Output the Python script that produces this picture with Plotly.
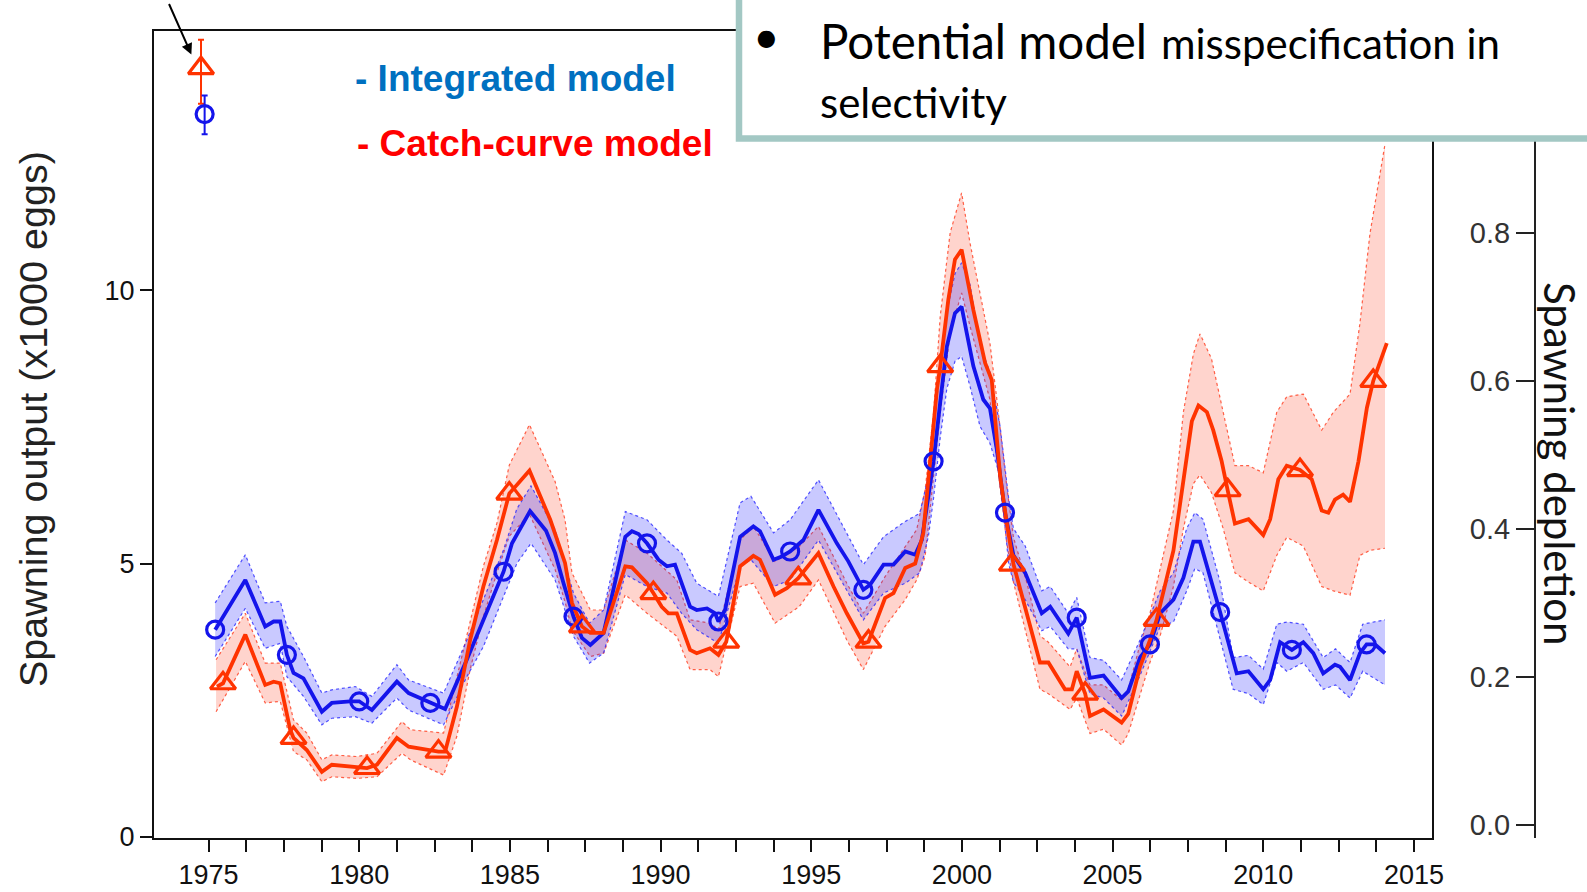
import plotly.graph_objects as go

# ---------------- data ----------------
blue_x = [1975.22, 1976.22, 1976.88, 1977.16, 1977.38, 1977.60, 1977.82, 1978.15, 1978.76, 1979.09,
          1979.70, 1980.00, 1980.42, 1981.25, 1981.64, 1982.36, 1982.85, 1983.57, 1984.12, 1984.79,
          1985.07, 1985.67, 1986.20, 1986.50, 1986.78, 1987.11, 1987.39, 1987.67, 1988.11, 1988.83,
          1989.05, 1989.27, 1989.55, 1989.93, 1990.21, 1990.48, 1990.98, 1991.20, 1991.54, 1991.81,
          1991.92, 1992.14, 1992.64, 1993.08, 1993.30, 1993.75, 1994.02, 1994.30, 1994.74, 1995.24,
          1995.85, 1996.23, 1996.73, 1996.95, 1997.40, 1997.73, 1998.12, 1998.45, 1998.67, 1998.89,
          1999.06, 1999.28, 1999.50, 1999.77, 1999.99, 2000.16, 2000.38, 2000.71, 2000.93, 2001.16,
          2001.43, 2001.71, 2002.10, 2002.65, 2002.93, 2003.53, 2003.81, 2004.25, 2004.70, 2005.30,
          2005.52, 2005.91, 2006.24, 2006.58, 2007.02, 2007.35, 2007.68, 2007.90, 2008.34, 2008.57,
          2009.12, 2009.51, 2010.00, 2010.23, 2010.56, 2010.95, 2011.33, 2011.66, 2011.99, 2012.38,
          2012.55, 2012.88, 2013.21, 2013.43, 2013.71, 2014.04]
blue_y = [3.79, 4.70, 3.85, 3.94, 3.94, 3.33, 3.00, 2.90, 2.29, 2.45,
          2.48, 2.48, 2.32, 2.84, 2.63, 2.45, 2.34, 3.24, 3.97, 4.85,
          5.37, 5.96, 5.60, 5.19, 4.64, 4.03, 3.64, 3.51, 3.73, 5.49,
          5.59, 5.54, 5.37, 5.07, 4.95, 4.98, 4.21, 4.15, 4.18, 4.09,
          3.94, 4.15, 5.49, 5.68, 5.59, 5.07, 5.13, 5.22, 5.43, 5.98,
          5.37, 5.04, 4.52, 4.61, 4.98, 4.98, 5.22, 5.16, 5.43, 6.23,
          6.87, 7.95, 8.97, 9.58, 9.70, 9.22, 8.61, 8.00, 7.84, 7.08,
          5.93, 5.15, 4.83, 4.09, 4.21, 3.72, 4.01, 2.91, 2.95, 2.54,
          2.66, 3.28, 3.52, 4.09, 4.34, 4.74, 5.40, 5.40, 4.58, 4.11,
          2.99, 3.03, 2.70, 2.87, 3.56, 3.42, 3.56, 3.36, 2.99, 3.15,
          3.11, 2.87, 3.36, 3.52, 3.52, 3.36]

blue_mk_x = [1975.22, 1977.60, 1980.00, 1982.36, 1984.79, 1987.11, 1989.55, 1991.92, 1994.30,
             1996.73, 1999.06, 2001.43, 2003.81, 2006.24, 2008.57, 2010.95, 2013.43]
blue_mk_y = [3.79, 3.33, 2.48, 2.45, 4.85, 4.03, 5.37, 3.94, 5.22,
             4.52, 6.87, 5.93, 4.01, 3.52, 4.11, 3.42, 3.52]

blue_band_x = [1975.22, 1976.22, 1976.88, 1977.38, 1977.60, 1978.15, 1978.76, 1979.09, 1979.87, 1980.42,
               1981.25, 1981.64, 1982.80, 1983.57, 1984.12, 1984.79, 1985.23, 1985.70, 1986.50, 1987.11,
               1987.64, 1988.11, 1988.83, 1989.55, 1990.21, 1990.70, 1991.20, 1991.92, 1992.64, 1993.00,
               1993.75, 1994.30, 1995.24, 1996.23, 1996.73, 1997.40, 1998.12, 1998.60, 1998.89, 1999.06,
               1999.28, 1999.50, 1999.77, 1999.99, 2000.27, 2000.60, 2000.93, 2001.27, 2001.55, 2001.71,
               2002.10, 2002.65, 2002.93, 2003.53, 2003.81, 2004.25, 2004.70, 2005.30, 2005.91, 2006.58,
               2007.02, 2007.46, 2007.73, 2008.00, 2008.57, 2009.00, 2009.51, 2010.00, 2010.45, 2010.78,
               2011.33, 2011.99, 2012.40, 2012.88, 2013.30, 2014.04]
blue_lo = [3.30, 4.18, 3.45, 3.54, 2.93, 2.57, 2.05, 2.17, 2.20, 2.08,
           2.54, 2.32, 2.05, 2.93, 3.48, 4.40, 5.00, 5.37, 4.70, 3.67,
           3.18, 3.36, 4.80, 4.58, 4.46, 4.09, 3.79, 3.54, 4.95, 5.07,
           4.58, 4.70, 5.43, 4.46, 3.97, 4.46, 4.64, 4.83, 5.50, 6.20,
           7.30, 8.20, 8.70, 8.79, 8.24, 7.51, 7.20, 6.59, 5.00, 4.66,
           4.34, 3.77, 3.85, 3.44, 3.44, 2.62, 2.54, 2.21, 2.95, 3.85,
           3.93, 4.50, 4.91, 4.83, 3.60, 2.70, 2.62, 2.42, 3.19, 3.03,
           3.19, 2.70, 2.78, 2.54, 3.03, 2.78]
blue_hi = [4.28, 5.16, 4.28, 4.31, 3.85, 3.30, 2.63, 2.69, 2.75, 2.57,
           3.15, 2.87, 2.63, 3.60, 4.34, 5.25, 6.00, 6.42, 5.62, 4.46,
           3.91, 4.15, 5.95, 5.80, 5.43, 5.19, 4.64, 4.40, 6.11, 6.23,
           5.56, 5.80, 6.53, 5.49, 4.98, 5.49, 5.77, 5.92, 6.60, 7.50,
           8.60, 9.60, 10.30, 10.50, 10.10, 9.00, 8.50, 7.50, 6.20, 5.64,
           5.32, 4.50, 4.58, 4.09, 4.38, 3.28, 3.23, 2.87, 3.60, 4.50,
           4.83, 5.64, 5.93, 5.81, 4.66, 3.28, 3.32, 3.07, 3.89, 3.93,
           3.89, 3.28, 3.44, 3.19, 3.89, 3.97]

red_x = [1975.28, 1975.48, 1976.22, 1976.88, 1977.16, 1977.38, 1977.71, 1977.82, 1978.26, 1978.76,
         1979.09, 1979.70, 1980.26, 1980.59, 1981.25, 1981.64, 1982.63, 1982.85, 1983.24, 1983.68,
         1984.12, 1984.57, 1984.98, 1985.65, 1986.34, 1986.83, 1987.06, 1987.39, 1987.67, 1988.11,
         1988.83, 1989.05, 1989.55, 1989.76, 1990.04, 1990.26, 1990.54, 1990.98, 1991.20, 1991.64,
         1991.92, 1992.18, 1992.64, 1993.08, 1993.30, 1993.80, 1994.19, 1994.57, 1995.24, 1995.74,
         1996.18, 1996.73, 1996.90, 1997.45, 1997.73, 1998.12, 1998.45, 1998.72, 1998.95, 1999.17,
         1999.28, 1999.55, 1999.77, 1999.99, 2000.38, 2000.77, 2000.99, 2001.27, 2001.49, 2001.71,
         2002.15, 2002.59, 2002.87, 2003.42, 2003.65, 2003.81, 2004.09, 2004.25, 2004.70, 2005.30,
         2005.52, 2005.91, 2006.24, 2006.46, 2007.02, 2007.35, 2007.63, 2007.85, 2008.13, 2008.34,
         2008.62, 2008.82, 2009.06, 2009.51, 2010.00, 2010.23, 2010.50, 2010.78, 2011.22, 2011.61,
         2011.94, 2012.16, 2012.38, 2012.65, 2012.88, 2013.16, 2013.44, 2013.65, 2014.10]
red_y = [2.75, 2.81, 3.70, 2.78, 2.84, 2.81, 1.96, 1.81, 1.59, 1.19,
         1.32, 1.29, 1.26, 1.32, 1.81, 1.65, 1.56, 1.56, 2.38, 3.60,
         4.58, 5.43, 6.28, 6.70, 5.80, 5.01, 4.28, 3.85, 3.73, 3.73,
         4.95, 4.93, 4.64, 4.46, 4.21, 4.09, 4.09, 3.42, 3.36, 3.45,
         3.33, 3.57, 4.95, 5.14, 5.07, 4.43, 4.55, 4.73, 5.19, 4.58,
         4.09, 3.54, 3.57, 4.37, 4.46, 4.92, 5.00, 5.56, 6.84, 8.18,
         8.61, 9.83, 10.56, 10.74, 9.64, 8.67, 8.36, 6.59, 5.74, 4.99,
         4.09, 3.19, 3.19, 2.70, 2.70, 3.03, 2.62, 2.21, 2.33, 2.09,
         2.25, 3.11, 3.60, 3.97, 5.24, 6.46, 7.60, 7.89, 7.77, 7.44,
         6.87, 6.34, 5.73, 5.81, 5.52, 5.81, 6.54, 6.79, 6.71, 6.54,
         5.97, 5.93, 6.17, 6.26, 6.13, 6.87, 7.85, 8.34, 9.03]

red_mk_x = [1975.48, 1977.82, 1980.26, 1982.63, 1984.98, 1987.39, 1989.76, 1992.18, 1994.57,
            1996.90, 1999.28, 2001.66, 2004.09, 2006.46, 2008.82, 2011.22, 2013.65]
red_mk_y = [2.81, 1.81, 1.26, 1.56, 6.28, 3.85, 4.46, 3.57, 4.73,
            3.57, 8.61, 4.98, 2.62, 3.97, 6.34, 6.71, 8.34]

red_band_x = [1975.25, 1976.22, 1976.88, 1977.38, 1977.82, 1978.26, 1978.76, 1979.09, 1979.93, 1980.59,
              1981.42, 1981.70, 1982.80, 1983.24, 1983.68, 1984.12, 1984.57, 1984.98, 1985.65, 1986.50,
              1986.83, 1987.06, 1987.67, 1988.11, 1988.83, 1989.55, 1990.54, 1990.98, 1991.64, 1991.92,
              1992.64, 1993.08, 1993.80, 1994.60, 1995.24, 1996.18, 1996.73, 1997.45, 1998.12, 1998.50,
              1998.78, 1999.06, 1999.28, 1999.61, 1999.99, 2000.27, 2000.93, 2001.16, 2001.49, 2001.71,
              2002.15, 2002.59, 2002.87, 2003.59, 2003.81, 2004.25, 2004.70, 2005.30, 2005.52, 2005.91,
              2006.24, 2006.58, 2007.02, 2007.35, 2007.68, 2007.90, 2008.28, 2008.67, 2009.06, 2009.51,
              2010.00, 2010.45, 2010.78, 2011.33, 2011.94, 2012.33, 2012.88, 2013.21, 2013.54, 2014.04]
red_lo = [2.29, 3.21, 2.45, 2.48, 1.56, 1.41, 1.01, 1.10, 1.07, 1.10,
          1.53, 1.41, 1.13, 1.84, 3.06, 4.03, 4.83, 5.50, 5.90, 4.89,
          4.30, 3.79, 3.30, 3.36, 4.43, 4.09, 3.67, 3.06, 3.06, 2.93,
          4.58, 4.64, 3.91, 4.21, 4.70, 3.60, 3.06, 3.85, 4.34, 4.70,
          5.13, 6.53, 7.75, 9.22, 9.95, 9.34, 8.00, 6.90, 5.37, 4.66,
          3.68, 2.70, 2.62, 2.33, 2.54, 1.89, 1.97, 1.68, 1.89, 2.62,
          3.19, 3.68, 4.58, 5.64, 6.46, 6.62, 6.30, 5.64, 4.83, 4.66,
          4.50, 5.15, 5.48, 5.32, 4.58, 4.50, 4.42, 5.15, 5.24, 5.28]
red_hi = [3.24, 4.09, 3.18, 3.18, 2.14, 1.90, 1.41, 1.50, 1.47, 1.53,
          2.11, 1.96, 1.90, 2.93, 3.97, 4.95, 5.74, 6.80, 7.54, 6.50,
          5.80, 4.83, 4.15, 4.15, 5.43, 5.19, 4.70, 3.97, 3.91, 3.79,
          5.43, 5.68, 5.04, 5.31, 5.68, 4.64, 4.09, 4.76, 5.31, 5.62,
          6.35, 7.75, 9.52, 11.05, 11.78, 10.86, 9.03, 8.00, 6.41, 5.48,
          4.66, 3.68, 3.56, 3.11, 3.44, 2.78, 2.78, 2.50, 2.70, 3.52,
          4.09, 4.91, 5.97, 7.77, 8.83, 9.20, 8.75, 7.77, 6.79, 6.79,
          6.66, 7.77, 8.05, 8.10, 7.44, 7.77, 8.10, 9.40, 11.03, 12.67]

# example points in the top-left corner (year, value, +err, -err)
ex_red = (1974.75, 14.06, 0.52, 0.65)
ex_blue = (1974.87, 13.22, 0.34, 0.37)

x_tick_vals = [1975 + 1.25 * k for k in range(33)]
x_tick_text = [str(int(v)) if v % 5 == 0 else "" for v in x_tick_vals]
y_tick_vals = [0, 5, 10]
y2_tick_vals = [0.0, 0.2, 0.4, 0.6, 0.8]
y2_tick_text = ["0.0", "0.2", "0.4", "0.6", "0.8"]

# ---------------- styling ----------------
BLUE = "rgb(20,20,235)"
RED = "rgb(255,51,0)"
BLUE_FILL = "rgba(30,30,255,0.24)"
RED_FILL = "rgba(255,90,60,0.26)"

W, H = 1587, 892
L, R, T, B = 154, 52, 31, 54
PW, PH = W - L - R, H - T - B


def pxx(xp):
    return (xp - L) / PW


def pxy(yp):
    return (H - B - yp) / PH


fig = go.Figure()

# red band
fig.add_trace(go.Scatter(x=red_band_x, y=red_lo, mode="lines",
                         line=dict(color="rgba(255,60,30,0.8)", width=1.2, dash="dot"),
                         hoverinfo="skip"))
fig.add_trace(go.Scatter(x=red_band_x, y=red_hi, mode="lines", fill="tonexty", fillcolor=RED_FILL,
                         line=dict(color="rgba(255,60,30,0.8)", width=1.2, dash="dot"),
                         hoverinfo="skip"))
# blue band
fig.add_trace(go.Scatter(x=blue_band_x, y=blue_lo, mode="lines",
                         line=dict(color="rgba(40,40,255,0.8)", width=1.2, dash="dot"),
                         hoverinfo="skip"))
fig.add_trace(go.Scatter(x=blue_band_x, y=blue_hi, mode="lines", fill="tonexty", fillcolor=BLUE_FILL,
                         line=dict(color="rgba(40,40,255,0.8)", width=1.2, dash="dot"),
                         hoverinfo="skip"))

# lines
fig.add_trace(go.Scatter(x=blue_x, y=blue_y, mode="lines", line=dict(color=BLUE, width=3.8)))
fig.add_trace(go.Scatter(x=red_x, y=red_y, mode="lines", line=dict(color=RED, width=3.8)))

# markers
fig.add_trace(go.Scatter(x=blue_mk_x, y=blue_mk_y, mode="markers",
                         marker=dict(symbol="circle-open", size=17, color=BLUE, line=dict(width=3.2))))
fig.add_trace(go.Scatter(x=red_mk_x, y=red_mk_y, mode="markers",
                         marker=dict(symbol="triangle-up-open", size=22, color=RED, line=dict(width=3.2))))

# example points with error bars
fig.add_trace(go.Scatter(x=[ex_red[0]], y=[ex_red[1]], mode="markers",
                         marker=dict(symbol="triangle-up-open", size=22, color=RED, line=dict(width=3.2)),
                         error_y=dict(type="data", symmetric=False, array=[ex_red[2]], arrayminus=[ex_red[3]],
                                      color=RED, thickness=2, width=3)))
fig.add_trace(go.Scatter(x=[ex_blue[0]], y=[ex_blue[1]], mode="markers",
                         marker=dict(symbol="circle-open", size=17, color=BLUE, line=dict(width=3.2)),
                         error_y=dict(type="data", symmetric=False, array=[ex_blue[2]], arrayminus=[ex_blue[3]],
                                      color=BLUE, thickness=2, width=3)))

# dummy trace for the secondary axis
fig.add_trace(go.Scatter(x=[None], y=[None], yaxis="y2", mode="lines", hoverinfo="skip"))

TICKFONT = dict(family="Liberation Sans, Arial, sans-serif", size=27, color="#111")

fig.update_layout(
    width=W, height=H,
    margin=dict(l=L, r=R, t=T, b=B, pad=0, autoexpand=False),
    paper_bgcolor="white", plot_bgcolor="white",
    showlegend=False,
    xaxis=dict(domain=[0, pxx(1432)], range=[1973.19, 2015.6], automargin=False,
               tickmode="array", tickvals=x_tick_vals, ticktext=x_tick_text,
               ticks="outside", ticklen=12, tickwidth=2, tickcolor="#111",
               showline=True, linewidth=2, linecolor="#111", mirror=True,
               showgrid=False, zeroline=False, tickfont=TICKFONT),
    yaxis=dict(range=[-0.02, 14.74], tickmode="array", tickvals=y_tick_vals, automargin=False,
               ticks="outside", ticklen=12, tickwidth=2, tickcolor="#111",
               showline=True, linewidth=2, linecolor="#111", mirror=True,
               showgrid=False, zeroline=False, tickfont=TICKFONT),
    yaxis2=dict(overlaying="y", anchor="free", position=1.0, side="left", automargin=False,
                range=[-0.0177, 1.0723], tickmode="array", tickvals=y2_tick_vals, ticktext=y2_tick_text,
                ticks="outside", ticklen=18, tickwidth=2, tickcolor="#222",
                showline=True, linewidth=2, linecolor="#222",
                showgrid=False, zeroline=False,
                tickfont=dict(family="Liberation Sans, Arial, sans-serif", size=29, color="#333")),
)

# text box (top right)
fig.add_shape(type="rect", xref="paper", yref="paper",
              x0=pxx(739), x1=pxx(1700), y0=pxy(138.5), y1=pxy(-60),
              line=dict(color="#a3c8c4", width=6.5), fillcolor="white", layer="above")

BOXFONT = "Lato, Open Sans, sans-serif"
LEGFONT = "Liberation Sans, Arial, sans-serif"
ann = [
    dict(text="•", x=pxx(766), y=pxy(36), xanchor="center", yanchor="middle",
         font=dict(family=BOXFONT, size=46, color="black")),
    dict(text="Potential model", x=pxx(818), y=pxy(41), xanchor="left", yanchor="middle",
         font=dict(family=BOXFONT, size=47.5, color="black")),
    dict(text="misspecification in", x=pxx(1159), y=pxy(42.5), xanchor="left", yanchor="middle",
         font=dict(family=BOXFONT, size=42, color="black")),
    dict(text="selectivity", x=pxx(818), y=pxy(102), xanchor="left", yanchor="middle",
         font=dict(family=BOXFONT, size=42, color="black")),
    dict(text="- Integrated model", x=pxx(353), y=pxy(79), xanchor="left", yanchor="middle",
         font=dict(family=LEGFONT, size=37, color="#0070c0", weight="bold")),
    dict(text="- Catch-curve model", x=pxx(355), y=pxy(143), xanchor="left", yanchor="middle",
         font=dict(family=LEGFONT, size=37, color="#ff0000", weight="bold")),
    dict(text="Spawning output (x1000 eggs)", x=pxx(33), y=pxy(419), xanchor="center", yanchor="middle",
         textangle=-90, font=dict(family="Liberation Sans, Arial, sans-serif", size=39.5, color="#222")),
    dict(text="Spawning depletion", x=pxx(1560), y=pxy(463), xanchor="center", yanchor="middle",
         textangle=90, font=dict(family=BOXFONT, size=42, color="#111")),
]
for a in ann:
    fig.add_annotation(xref="paper", yref="paper", showarrow=False, **a)

# arrow pointing at the example point
fig.add_annotation(x=1974.43, y=14.31, xref="x", yref="y", text="", showarrow=True,
                   ax=-23, ay=-52, arrowhead=2, arrowsize=1.1, arrowwidth=2, arrowcolor="black")

fig.write_html("out.html")
